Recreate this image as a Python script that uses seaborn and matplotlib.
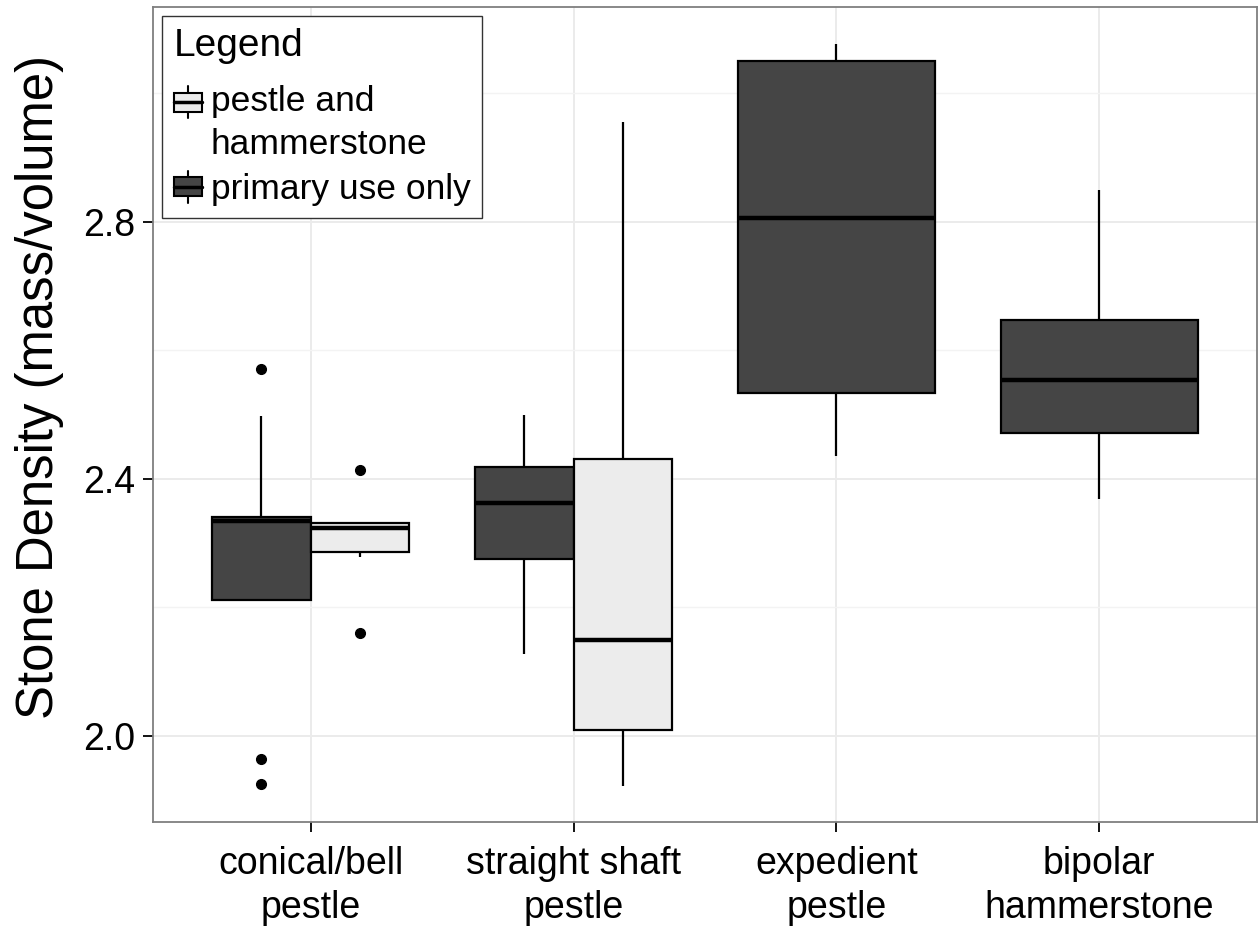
import matplotlib
matplotlib.use("Agg")
import matplotlib.pyplot as plt
import seaborn as sns
import pandas as pd
from matplotlib.patches import Rectangle, Patch
from matplotlib.lines import Line2D
from matplotlib.legend_handler import HandlerBase
from matplotlib.ticker import FixedLocator

categories = ["conical/bell\npestle", "straight shaft\npestle", "expedient\npestle", "bipolar\nhammerstone"]
groups = ["primary use only", "pestle and hammerstone"]
legend_labels = ["pestle and\nhammerstone", "primary use only"]

conical_primary = [1.925, 1.964, 2.211, 2.300, 2.334, 2.337, 2.340, 2.498, 2.570]
conical_both = [2.161, 2.279, 2.287, 2.300, 2.324, 2.328, 2.332, 2.332, 2.413]
straight_primary = [2.127, 2.275, 2.362, 2.418, 2.499]
straight_both = [1.922, 2.010, 2.149, 2.431, 2.954]
expedient_primary = [2.435, 2.533, 2.805, 3.049, 3.076]
bipolar_primary = [2.369, 2.472, 2.553, 2.647, 2.849]

y_major = [2.0, 2.4, 2.8]
y_minor = [2.2, 2.6, 3.0]

dark = "#454545"
light = "#ECECEC"
palette = {"primary use only": dark, "pestle and hammerstone": light}

rows = []
for cat, grp, vals in [
    (categories[0], groups[0], conical_primary),
    (categories[0], groups[1], conical_both),
    (categories[1], groups[0], straight_primary),
    (categories[1], groups[1], straight_both),
    (categories[2], groups[0], expedient_primary),
    (categories[3], groups[0], bipolar_primary),
]:
    for v in vals:
        rows.append({"type": cat, "use": grp, "density": v})
df = pd.DataFrame(rows)

sns.set_theme(style="whitegrid")
plt.rcParams["font.family"] = ["Liberation Sans", "DejaVu Sans"]
plt.rcParams["text.color"] = "black"
plt.rcParams["axes.labelcolor"] = "black"
plt.rcParams["xtick.color"] = "black"
plt.rcParams["ytick.color"] = "black"

fig = plt.figure(figsize=(12.59, 9.30), dpi=100)
ax = fig.add_axes([153 / 1259, 1 - 822 / 930, (1257 - 153) / 1259, (822 - 7) / 930])
ax.set_facecolor("white")
ax.set_axisbelow(True)

common = dict(
    x="type", y="density", hue="use", order=categories, palette=palette,
    width=0.75, gap=0, linecolor="black", linewidth=1.6, showcaps=False,
    whis=1.5, legend=False, ax=ax,
    flierprops=dict(marker="o", markerfacecolor="black", markeredgecolor="black", markersize=7),
    medianprops=dict(linewidth=3.2, color="black"),
    whiskerprops=dict(linewidth=1.6, color="black"),
)

paired = df[df["type"].isin(categories[:2])]
single = df[df["type"].isin(categories[2:])]
sns.boxplot(data=paired, hue_order=groups, dodge=True, **common)
sns.boxplot(data=single, hue_order=[groups[0]], dodge=False, **common)

ax.set_xlim(-0.6, 3.6)
ax.set_ylim(1.8665, 3.1335)
ax.yaxis.set_major_locator(FixedLocator(y_major))
ax.yaxis.set_minor_locator(FixedLocator(y_minor))
ax.set_yticklabels([f"{v:.1f}" for v in y_major])
ax.set_xticks(range(len(categories)))
ax.set_xticklabels(categories)
for t in ax.get_xticklabels():
    t.set_linespacing(1.3)

ax.grid(which="major", color="#EBEBEB", linewidth=1.4)
ax.grid(which="minor", axis="y", color="#F3F3F3", linewidth=1.0)
ax.tick_params(axis="both", which="major", length=7, width=1.3, color="black",
               labelsize=27, labelcolor="black", bottom=True, left=True)
ax.tick_params(axis="x", pad=10)
ax.tick_params(axis="y", pad=6)
ax.tick_params(which="minor", length=0)
for s in ax.spines.values():
    s.set_color("#7F7F7F")
    s.set_linewidth(1.3)
    s.set_visible(True)

ax.set_xlabel("")
ax.set_ylabel("Stone Density (mass/volume)", fontsize=36.6, color="black")
ax.yaxis.set_label_coords((64 - 153) / 1104, (822 - 387) / 815)


class BoxKeyHandler(HandlerBase):
    def __init__(self, yshift=0.0):
        super().__init__()
        self.yshift = yshift

    def create_artists(self, legend, orig_handle, xdescent, ydescent, width, height, fontsize, trans):
        x0 = -xdescent
        y0 = -ydescent + self.yshift
        rect = Rectangle((x0, y0 + 0.2 * height), width, 0.6 * height,
                         facecolor=orig_handle.get_facecolor(), edgecolor="black",
                         linewidth=1.5, transform=trans)
        med = Line2D([x0, x0 + width], [y0 + 0.5 * height] * 2, color="black", linewidth=2.5, transform=trans)
        wh_top = Line2D([x0 + width / 2] * 2, [y0 + 0.8 * height, y0 + height], color="black", linewidth=1.5, transform=trans)
        wh_bot = Line2D([x0 + width / 2] * 2, [y0, y0 + 0.2 * height], color="black", linewidth=1.5, transform=trans)
        return [rect, med, wh_top, wh_bot]


h_light = Patch(facecolor=light)
h_dark = Patch(facecolor=dark)
leg = ax.legend(
    [h_light, h_dark], legend_labels,
    handler_map={h_light: BoxKeyHandler(yshift=15.5), h_dark: BoxKeyHandler()},
    title="Legend", loc="upper left", bbox_to_anchor=(0, 1),
    fontsize=25.5, title_fontsize=28, frameon=True, fancybox=False,
    borderaxespad=0.25, borderpad=0.33, handlelength=0.8, handleheight=1.0,
    handletextpad=0.25, labelspacing=0.28, alignment="left",
)
for t in leg.get_texts():
    t.set_color("black")
    t.set_linespacing(1.4)
leg.get_title().set_color("black")
leg._legend_box.sep = 0.28 * 25.5 + 8
leg.get_frame().set_edgecolor("#333333")
leg.get_frame().set_linewidth(1.0)
leg.get_frame().set_facecolor("white")
leg.get_frame().set_alpha(1.0)

fig.savefig("out.png", dpi=100)
